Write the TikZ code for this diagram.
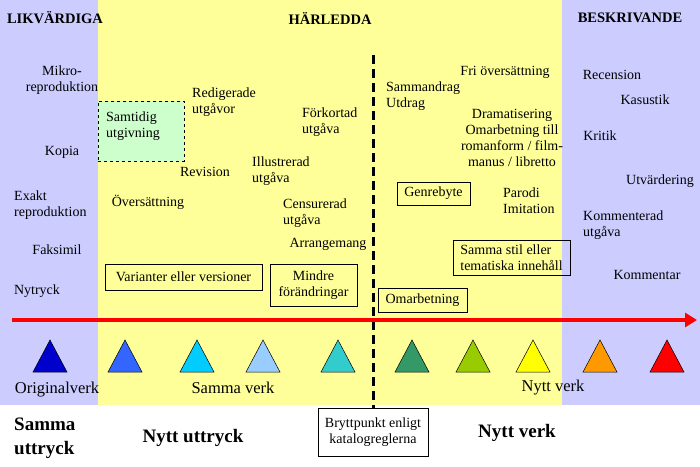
\documentclass[tikz,border=0pt]{standalone}
\usepackage{fontspec}
\setmainfont{Liberation Serif}
\usetikzlibrary{arrows.meta}
\begin{document}
\begin{tikzpicture}[x=1pt,y=-1pt,
  lab/.style={font=\fontsize{14}{16}\selectfont, align=center, inner sep=0pt},
  labl/.style={font=\fontsize{14}{16}\selectfont, align=left, inner sep=0pt, anchor=west},
  head/.style={font=\bfseries\fontsize{14.5}{17}\selectfont, inner sep=0pt},
  big/.style={font=\bfseries\fontsize{19}{24}\selectfont, inner sep=0pt},
  mid/.style={font=\fontsize{16.5}{19}\selectfont, inner sep=0pt},
  box/.style={draw, line width=0.6pt, font=\fontsize{14}{16}\selectfont, inner sep=0pt},
  tri/.style={draw=black, line width=0.5pt}]
\useasboundingbox (0,0) rectangle (700,466);
\fill[white] (0,0) rectangle (700,466);
\fill[fill={rgb,255:red,204;green,204;blue,255}] (0,0) rectangle (98,405);
\fill[fill={rgb,255:red,255;green,255;blue,153}] (98,0) rectangle (562,405);
\fill[fill={rgb,255:red,204;green,204;blue,255}] (562,0) rectangle (700,405);

\node[head] (h1) at (55,18) {LIKVÄRDIGA};
\node[head] (h2) at (330,18) {HÄRLEDDA};
\node[head] (h3) at (630,18) {BESKRIVANDE};

\node[lab] (mikro) at (62,80) {Mikro-\\reproduktion};
\node[lab] (kopia) at (62,152) {Kopia};
\node[labl] (exakt) at (14,205) {Exakt\\reproduktion};
\node[lab] (faks) at (57,250) {Faksimil};
\node[lab] (nytr) at (37,291) {Nytryck};

\node[box, dashed, fill={rgb,255:red,204;green,255;blue,204}, minimum width=86pt, minimum height=60pt] (samt) at (141,131) {};
\node[labl] (samtt) at (106,126) {Samtidig\\utgivning};
\node[labl] (redig) at (192,102) {Redigerade\\utgåvor};
\node[labl] (fork) at (302,122) {Förkortad\\utgåva};
\node[lab] (rev) at (205,172) {Revision};
\node[labl] (illu) at (252,171) {Illustrerad\\utgåva};
\node[lab] (overs) at (148,202) {Översättning};
\node[labl] (cens) at (283,213) {Censurerad\\utgåva};
\node[lab] (arr) at (328,244) {Arrangemang};
\node[box, minimum width=157pt, minimum height=26pt] (var) at (183.5,277) {Varianter eller versioner};
\node[box, minimum width=87pt, minimum height=42pt, align=center] (mindre) at (313.5,285) {Mindre\\förändringar};

\node[labl] (samm) at (386,96) {Sammandrag\\Utdrag};
\node[lab] (fri) at (505,72) {Fri översättning};
\node[lab] (drama) at (512,138) {Dramatisering\\Omarbetning till\\romanform / film-\\manus / libretto};
\node[box, minimum width=73pt, minimum height=23pt] (genre) at (433.5,193.5) {Genrebyte};
\node[labl] (parodi) at (503,201) {Parodi\\Imitation};
\node[box, minimum width=117pt, minimum height=35pt, align=left] (stil) at (511.5,257.5) {Samma stil eller\\tematiska innehåll};
\node[box, minimum width=89pt, minimum height=24pt] (omarb) at (422.5,300) {Omarbetning};

\node[lab] (rec) at (612,75) {Recension};
\node[lab] (kas) at (645,100) {Kasustik};
\node[lab] (krit) at (600,136) {Kritik};
\node[lab] (utv) at (660,181) {Utvärdering};
\node[labl] (komu) at (583,225) {Kommenterad\\utgåva};
\node[lab] (kom) at (647,275) {Kommentar};

\coordinate (dtop) at (373,55);
\node[box, fill=white, minimum width=110pt, minimum height=48pt, align=center] (brytt) at (373,432) {Bryttpunkt enligt\\katalogreglerna};
\draw[line width=3pt, dash pattern=on 9pt off 5pt] (dtop) -- (brytt.north);

\coordinate (as) at (12,320);
\coordinate (ae) at (697,320);
\draw[red, line width=4.5pt, -{Triangle[length=12pt,width=14pt]}] (as) -- (ae);

\foreach \x/\c [count=\i] in {50/{0,0,204},125/{51,102,255},197/{0,204,255},263/{153,204,255},338/{51,204,204},412/{51,153,102},473/{153,204,0},533/{255,255,0},600/{255,153,0},667/{255,0,0}}{
  \definecolor{tc\i}{RGB}{\c}
  \draw[tri, fill=tc\i] (\x-17,372) -- (\x,340) -- (\x+17,372) -- cycle;
}

\node[mid] (orig) at (57,390) {Originalverk};
\node[mid] (sv) at (233,388) {Samma verk};
\node[mid] (nv) at (553,388) {Nytt verk};
\node[big, align=left, anchor=west] (su) at (14,438) {Samma\\uttryck};
\node[big] (nu) at (193,438) {Nytt uttryck};
\node[big] (nvb) at (517,433) {Nytt verk};
\end{tikzpicture}
\end{document}
